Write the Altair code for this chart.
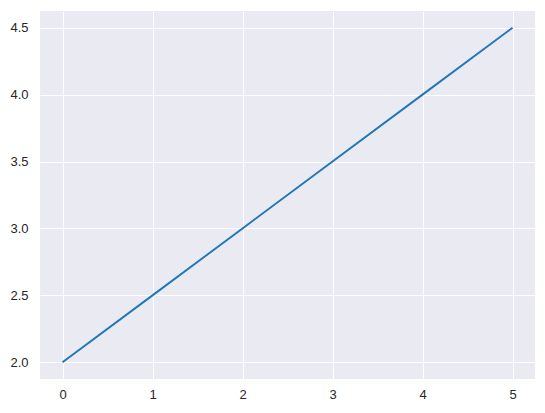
import altair as alt
import pandas as pd

x_vals = [0, 1, 2, 3, 4, 5]
y_vals = [2.0, 2.5, 3.0, 3.5, 4.0, 4.5]
x_ticks = [0, 1, 2, 3, 4, 5]
y_ticks = [2.0, 2.5, 3.0, 3.5, 4.0, 4.5]

df = pd.DataFrame({"x": x_vals, "y": y_vals})

chart = alt.Chart(df).mark_line(color="#1f77b4", strokeWidth=1.9).encode(
    x=alt.X("x:Q", scale=alt.Scale(domain=[-0.25, 5.25], nice=False, zero=False),
            axis=alt.Axis(values=x_ticks, title=None, format="d", labelPadding=9)),
    y=alt.Y("y:Q", scale=alt.Scale(domain=[1.875, 4.625], nice=False, zero=False),
            axis=alt.Axis(values=y_ticks, title=None, format=".1f", labelPadding=12)),
).properties(
    width=495, height=368,
    autosize=alt.AutoSizeParams(type="none"),
    padding={"left": 32, "top": 3, "right": 2, "bottom": 26},
    background="white",
).configure_view(
    fill="#EAEAF2", stroke=None
).configure_axis(
    domain=False, ticks=False, grid=True, gridColor="white", gridWidth=1,
    labelFont="Liberation Sans", labelFontSize=13, labelColor="#262626",
)

chart.save("out.html", embed_options={"renderer": "svg", "actions": False})
